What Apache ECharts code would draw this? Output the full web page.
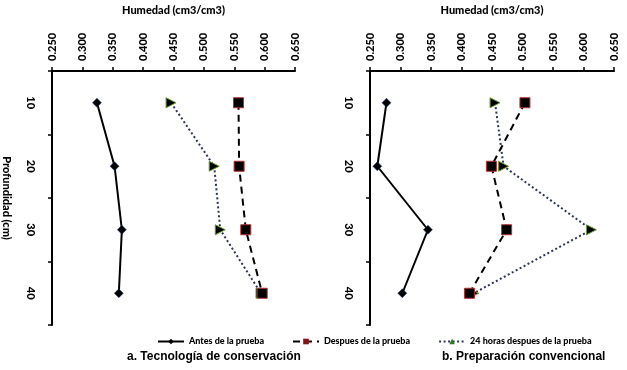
<!DOCTYPE html>
<html><head><meta charset="utf-8">
<script src="https://cdn.jsdelivr.net/npm/echarts@6/dist/echarts.min.js"></script>
<style>html,body{margin:0;padding:0;background:#fff}#c{width:627px;height:370px}</style>
</head><body><div id="c"></div>
<script>
const depths = ['10', '20', '30', '40'];
const xTicks = { min: 0.25, max: 0.65, step: 0.05 };
const seriesNames = ['Antes de la prueba', 'Despues de la prueba', '24 horas despues de la prueba'];
// a. Tecnología de conservación
const consAntes = [0.324, 0.353, 0.365, 0.360];
const consDespues = [0.557, 0.558, 0.569, 0.596];
const cons24h = [0.446, 0.517, 0.527, 0.594];
// b. Preparación convencional
const convAntes = [0.277, 0.262, 0.345, 0.303];
const convDespues = [0.504, 0.449, 0.474, 0.413];
const conv24h = [0.455, 0.469, 0.613, 0.420];

const FONT = 'Lato';
const txt = '#000';
const pairs = v => v.map((x, i) => [x, depths[i]]);

function xAx(idx) {
  return {
    type: 'value', gridIndex: idx, position: 'top',
    min: xTicks.min, max: xTicks.max, interval: xTicks.step,
    name: 'Humedad (cm3/cm3)', nameLocation: 'middle', nameGap: 55,
    nameTextStyle: { fontFamily: FONT, fontWeight: 900, fontSize: 11, color: txt },
    axisLine: { show: true, lineStyle: { color: '#000', width: 2 } },
    axisTick: { show: true, length: 4, lineStyle: { color: '#000', width: 1.5 } },
    axisLabel: { rotate: -90, margin: 10, fontFamily: FONT, fontWeight: 900, fontSize: 11, color: txt,
      formatter: v => v.toFixed(3) },
    splitLine: { show: false }
  };
}
function yAx(idx, withName) {
  return {
    type: 'category', gridIndex: idx, inverse: true, data: depths,
    name: withName ? 'Profundidad (cm)' : '', nameLocation: 'middle', nameGap: 40, nameRotate: -90,
    nameTextStyle: { fontFamily: FONT, fontWeight: 900, fontSize: 11, color: txt },
    axisLine: { show: true, lineStyle: { color: '#000', width: 2 } },
    axisTick: { show: true, length: 4, lineStyle: { color: '#000', width: 1.5 } },
    axisLabel: { rotate: -90, margin: 16, fontFamily: FONT, fontWeight: 900, fontSize: 11, color: txt },
    splitLine: { show: false }
  };
}
function mk(idx, vals, kind) {
  const base = { type: 'line', xAxisIndex: idx, yAxisIndex: idx, data: pairs(vals), name: seriesNames[kind], animation: false, z: 3 - kind };
  if (kind === 0) return Object.assign(base, { symbol: 'diamond', symbolSize: 9,
    lineStyle: { color: '#000', width: 2 }, itemStyle: { color: '#000', borderColor: '#1a3a7a', borderWidth: 0.5 } });
  if (kind === 1) return Object.assign(base, { symbol: 'rect', symbolSize: 10,
    lineStyle: { color: '#000', width: 2, type: [7, 5] }, itemStyle: { color: '#000', borderColor: '#b03030', borderWidth: 1 } });
  return Object.assign(base, { symbol: 'triangle', symbolSize: 10, symbolRotate: -90,
    lineStyle: { color: '#2a3550', width: 2, type: [2, 2.5] }, itemStyle: { color: '#000', borderColor: '#6a9a30', borderWidth: 1 } });
}

const chart = echarts.init(document.getElementById('c'), null, { renderer: 'canvas' });
chart.setOption({
  backgroundColor: '#fff',
  animation: false,
  grid: [
    { left: 52, top: 67, width: 243, height: 258 },
    { left: 370, top: 67, width: 244, height: 258 }
  ],
  xAxis: [xAx(0), xAx(1)],
  yAxis: [yAx(0, true), yAx(1, false)],
  legend: {
    left: 152, top: 332, itemWidth: 26, itemHeight: 7, itemGap: 28, symbolRotate: 0,
    textStyle: { fontFamily: FONT, fontWeight: 900, fontSize: 9, color: txt },
    data: [
      { name: seriesNames[0], itemStyle: { color: '#000', borderWidth: 0 } },
      { name: seriesNames[1], itemStyle: { color: '#8b1010', borderWidth: 0 } },
      { name: seriesNames[2], itemStyle: { color: '#2f7a20', borderWidth: 0 } }
    ]
  },
  title: [
    { text: 'a. Tecnología de conservación', left: 122, top: 346,
      textStyle: { fontFamily: 'Liberation Sans', fontWeight: 'bold', fontSize: 12, color: txt } },
    { text: 'b. Preparación convencional', left: 437, top: 346,
      textStyle: { fontFamily: 'Liberation Sans', fontWeight: 'bold', fontSize: 12, color: txt } }
  ],
  series: [
    mk(0, consAntes, 0), mk(0, consDespues, 1), mk(0, cons24h, 2),
    mk(1, convAntes, 0), mk(1, convDespues, 1), mk(1, conv24h, 2)
  ]
});
</script></body></html>
